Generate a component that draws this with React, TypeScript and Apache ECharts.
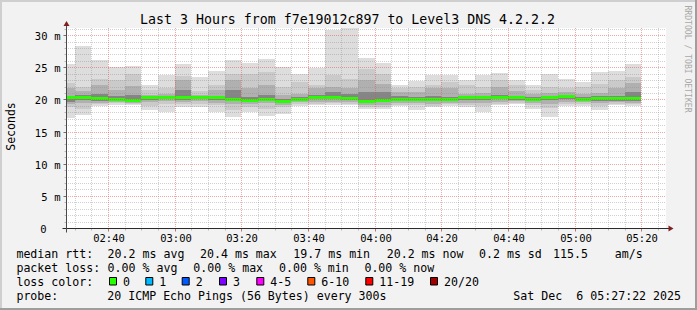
import { useEffect, useRef } from "react";
import * as echarts from "echarts";

// ---------- data ----------
const barStart = [
  "02:25", "02:30", "02:35", "02:40", "02:45", "02:50", "02:55",
  "03:00", "03:05", "03:10", "03:15", "03:20", "03:25", "03:30", "03:35",
  "03:40", "03:45", "03:50", "03:55", "04:00", "04:05", "04:10", "04:15",
  "04:20", "04:25", "04:30", "04:35", "04:40", "04:45", "04:50", "04:55",
  "05:00", "05:05", "05:10", "05:15",
];
const stepMin = 5;
// smoke bands (ms): outermost ping pair .. inner pairs, median
const maxV = [25.5, 28.3, 26.1, 25.0, 25.15, 22.2, 23.75, 25.5, 23.5, 24.4, 26.1, 25.7, 26.35, 25.05, 24.0, 24.9, 30.8, 31.1, 26.5, 25.6, 22.2, 22.8, 23.75, 23.75, 22.97, 23.75, 24.1, 22.97, 22.3, 24.0, 23.1, 22.7, 24.3, 24.4, 25.5];
const hi2 = [22.5, 21.9, 23.1, 23.0, 24.0, 21.4, 21.8, 23.6, 21.25, 22.2, 24.0, 24.0, 24.3, 21.9, 22.7, 22.2, 23.75, 23.2, 24.8, 24.0, 21.7, 21.9, 22.3, 22.7, 22.2, 21.9, 22.97, 22.2, 21.5, 21.9, 21.7, 21.9, 22.45, 22.97, 23.5];
const hi3 = [21.7, 21.25, 22.2, 21.4, 22.1, 20.7, 20.9, 22.97, 20.7, 21.4, 22.97, 21.7, 22.3, 20.7, 20.9, 21.7, 21.9, 21.7, 22.97, 22.4, 21.15, 21.15, 21.7, 21.7, 20.9, 21.0, 21.9, 21.25, 20.9, 21.0, 21.15, 20.9, 21.0, 21.7, 22.5];
const hi4 = [20.6, 20.7, 20.9, 20.6, 20.7, 20.4, 20.5, 21.4, 20.45, 20.6, 21.4, 20.4, 20.7, 20.1, 20.4, 20.7, 21.15, 20.9, 21.15, 21.15, 20.5, 20.4, 20.5, 20.4, 20.5, 20.5, 20.7, 20.5, 20.4, 20.5, 20.6, 20.3, 20.5, 20.6, 21.15];
const medV = [20.3, 20.3, 20.2, 20.05, 19.9, 20.25, 20.3, 20.3, 20.3, 20.3, 20.05, 19.9, 20.0, 19.7, 20.0, 20.3, 20.3, 20.2, 19.7, 19.9, 19.95, 20.0, 20.0, 20.0, 20.25, 20.25, 20.35, 20.25, 20.0, 20.25, 20.4, 20.0, 20.1, 20.1, 20.2];
const lo4 = [19.6, 19.9, 19.8, 19.8, 19.7, 19.9, 20.0, 19.9, 20.0, 19.9, 19.7, 19.6, 19.7, 19.4, 19.8, 20.0, 20.0, 19.9, 19.4, 19.6, 19.7, 19.7, 19.7, 19.8, 19.9, 19.9, 20.0, 19.9, 19.7, 19.9, 20.0, 19.7, 19.8, 19.8, 19.8];
const lo3 = [19.3, 19.5, 19.5, 19.6, 19.5, 19.6, 19.7, 19.6, 19.7, 19.4, 19.3, 19.3, 19.5, 19.2, 19.6, 19.6, 19.6, 19.6, 19.2, 19.2, 19.5, 19.4, 19.3, 19.5, 19.4, 19.4, 19.6, 19.7, 19.4, 19.3, 19.6, 19.6, 19.5, 19.6, 19.5];
const lo2 = [18.8, 18.5, 19.3, 19.4, 19.3, 19.0, 19.3, 19.3, 19.3, 19.1, 18.3, 18.8, 18.5, 18.8, 19.3, 19.3, 19.4, 19.3, 18.8, 18.8, 19.2, 19.1, 19.0, 19.3, 19.1, 19.0, 19.3, 19.5, 19.1, 18.6, 19.3, 19.3, 19.0, 19.3, 19.3];
const minV = [17.1, 17.6, 18.9, 19.2, 19.1, 18.4, 18.1, 18.8, 18.8, 18.0, 17.2, 18.1, 17.4, 17.7, 19.0, 19.1, 19.2, 19.1, 18.5, 18.5, 19.0, 18.4, 18.8, 19.0, 18.8, 18.1, 19.1, 19.3, 18.5, 17.2, 19.0, 19.0, 18.4, 19.1, 19.0];

const xStart = "02:27:22";
const xEnd = "05:27:22";
const xLabels = ["02:40", "03:00", "03:20", "03:40", "04:00", "04:20", "04:40", "05:00", "05:20"];
const yTicks = [0, 5, 10, 15, 20, 25, 30];
const yUnit = "m";
const yMax = 31.1;

const title = "Last 3 Hours from f7e19012c897 to Level3 DNS 4.2.2.2";
const yName = "Seconds";
const watermark = "RRDTOOL / TOBI OETIKER";
const rttLabel = "median rtt:";
const rttStats = ["20.2 ms avg", "20.4 ms max", "19.7 ms min", "20.2 ms now", "0.2 ms sd", "115.5", "am/s"];
const lossLabel = "packet loss:";
const lossStats = ["0.00 % avg", "0.00 % max", "0.00 % min", "0.00 % now"];
const lossColorLabel = "loss color:";
const lossLabels = ["0", "1", "2", "3", "4-5", "6-10", "11-19", "20/20"];
const lossColors = ["#26ff00", "#00b8ff", "#0059ff", "#7e00ff", "#ff00ff", "#ff5500", "#ff0000", "#a10000"];
const probeLabel = "probe:";
const probeText = "20 ICMP Echo Pings (56 Bytes) every 300s";
const stampParts = ["Sat Dec", "6 05:27:22 2025"];

// ---------- helpers ----------
const FONT = '"DejaVu Sans Mono", monospace';
const toMin = (s: string) => {
  const p = s.split(":").map(Number);
  return p[0] * 60 + p[1] + (p[2] || 0) / 60;
};
const xMin = toMin(xStart);
const xMax = toMin(xEnd);

const G_LEFT = 66;
const G_TOP = 28;
const G_W = 600;
const G_H = 200;
const X0 = G_LEFT + 0.5;
const Y0 = G_TOP + G_H + 0.5;

const bandColors = ["#dddddd", "#cacaca", "#b0b0b0", "#858585"];
const GRID_MINOR = "rgba(143,143,143,0.42)";
const GRID_MAJOR = "rgba(222,79,79,0.5)";

export default function App() {
  const ref = useRef<HTMLDivElement>(null);

  useEffect(() => {
    if (!ref.current) return;
    const chart = echarts.init(ref.current, undefined, { renderer: "svg" });

    const smokeData = barStart.map((s, i) => [
      toMin(s), maxV[i], hi2[i], hi3[i], hi4[i], medV[i], lo4[i], lo3[i], lo2[i], minV[i],
    ]);
    const medData = barStart.map((s, i) => [toMin(s), medV[i]]);

    const gridData: number[][] = [];
    for (let v = 1; v <= Math.floor(yMax); v++) {
      gridData.push([xMin, v, v % 5 === 0 ? 1 : 0]);
    }
    const firstV = Math.ceil(xMin / stepMin) * stepMin;
    for (let t = firstV; t <= xMax; t += stepMin) {
      gridData.push([t, 0, t % 20 === 0 ? 3 : 2]);
    }

    const xLabelData = xLabels.map((l) => [toMin(l), 0]);
    const yLabelData = yTicks.map((v) => [xMin, v]);

    const texts: any[] = [];
    const txt = (x: number, y: number, text: string, extra: any = {}) =>
      texts.push({
        type: "text",
        x,
        y,
        z: 50,
        silent: true,
        style: {
          text,
          fontFamily: FONT,
          fontSize: 11.6,
          fill: "#000",
          align: "left",
          verticalAlign: "middle",
          ...extra,
        },
      });

    // title + side texts
    txt(347.5, 19.5, title, { fontSize: 13.25, align: "center" });
    texts.push({
      type: "text",
      x: 10.5,
      y: 126.5,
      rotation: Math.PI / 2,
      z: 50,
      style: { text: yName, fontFamily: FONT, fontSize: 11.5, fill: "#000", align: "center", verticalAlign: "middle" },
    });
    texts.push({
      type: "text",
      x: 687.5,
      y: 59,
      rotation: -Math.PI / 2,
      z: 50,
      style: { text: watermark, fontFamily: FONT, fontSize: 8.1, fill: "#a8a8a8", align: "center", verticalAlign: "middle" },
    });

    // legend rows
    const r1 = 254, r2 = 268, r3 = 282, r4 = 296.3;
    txt(16.4, r1, rttLabel);
    const rttX = [107.6, 200, 293.3, 386.7, 479, 553, 614.7];
    rttStats.forEach((s, i) => txt(rttX[i], r1, s));
    txt(16.4, r2, lossLabel);
    const lossX = [107.6, 193.3, 279, 364.4];
    lossStats.forEach((s, i) => txt(lossX[i], r2, s));
    txt(16.4, r3, lossColorLabel);
    const boxX = [109, 145.3, 181.7, 219, 256.3, 307.3, 365.3, 430];
    lossLabels.forEach((l, i) => {
      texts.push({
        type: "rect",
        z: 50,
        shape: { x: boxX[i] + 0.5, y: 277.5, width: 7, height: 7.5 },
        style: { fill: lossColors[i], stroke: "#000", lineWidth: 1 },
      });
      txt(boxX[i] + 14, r3, l);
    });
    txt(16.4, r4, probeLabel);
    txt(107.3, r4, probeText);
    txt(513.3, r4, stampParts[0]);
    txt(576.3, r4, stampParts[1]);

    // frame bevel + axes + arrows
    const frame: any[] = [
      { type: "rect", z: 60, shape: { x: 0, y: 0, width: 697, height: 2 }, style: { fill: "#cfcfcf" } },
      { type: "rect", z: 60, shape: { x: 0, y: 0, width: 2, height: 310 }, style: { fill: "#cfcfcf" } },
      { type: "rect", z: 61, shape: { x: 0, y: 308, width: 697, height: 2 }, style: { fill: "#9e9e9e" } },
      { type: "rect", z: 61, shape: { x: 695, y: 0, width: 2, height: 310 }, style: { fill: "#9e9e9e" } },
      { type: "line", z: 70, shape: { x1: X0 - 4, y1: Y0, x2: X0 + G_W + 4, y2: Y0 }, style: { stroke: "#2a2a2a", lineWidth: 1 } },
      { type: "line", z: 70, shape: { x1: X0, y1: Y0 + 4, x2: X0, y2: G_TOP - 4 }, style: { stroke: "#4a4a4a", lineWidth: 1 } },
      {
        type: "polygon",
        z: 71,
        shape: { points: [[X0 + G_W + 2, Y0 - 3], [X0 + G_W + 2, Y0 + 3], [X0 + G_W + 7, Y0]] },
        style: { fill: "#801f1f" },
      },
      {
        type: "polygon",
        z: 71,
        shape: { points: [[X0 - 3, G_TOP - 2], [X0 + 3, G_TOP - 2], [X0, G_TOP - 7]] },
        style: { fill: "#801f1f" },
      },
    ];

    const option: any = {
      animation: false,
      backgroundColor: "#f2f2f2",
      grid: {
        left: G_LEFT,
        top: G_TOP,
        width: G_W,
        height: G_H,
        show: true,
        backgroundColor: "#ffffff",
        borderWidth: 0,
      },
      xAxis: { type: "value", min: xMin, max: xMax, show: false },
      yAxis: { type: "value", min: 0, max: yMax, show: false },
      series: [
        {
          type: "custom",
          name: "smoke",
          z: 2,
          clip: true,
          silent: true,
          data: smokeData,
          renderItem: (_p: any, api: any) => {
            const t = api.value(0);
            const xa = Math.round(api.coord([t, 0])[0]);
            const xb = Math.round(api.coord([t + stepMin, 0])[0]);
            const pairs = [[1, 9], [2, 8], [3, 7], [4, 6]];
            return {
              type: "group",
              children: pairs.map(([h, l], k) => {
                const yh = Math.round(api.coord([t, api.value(h)])[1]);
                const yl = Math.round(api.coord([t, api.value(l)])[1]);
                return {
                  type: "rect",
                  shape: { x: xa, y: yh, width: xb - xa, height: Math.max(1, yl - yh) },
                  style: { fill: bandColors[k] },
                };
              }),
            };
          },
        },
        {
          type: "custom",
          name: "median",
          z: 3,
          clip: true,
          silent: true,
          data: medData,
          renderItem: (_p: any, api: any) => {
            const t = api.value(0);
            const xa = Math.round(api.coord([t, 0])[0]);
            const xb = Math.round(api.coord([t + stepMin, 0])[0]);
            const y = api.coord([t, api.value(1)])[1];
            return {
              type: "rect",
              shape: { x: xa, y: Math.round(y - 1.5), width: xb - xa, height: 3 },
              style: { fill: lossColors[0] },
            };
          },
        },
        {
          type: "custom",
          name: "grid",
          z: 4,
          silent: true,
          data: gridData,
          renderItem: (_p: any, api: any) => {
            const a = api.value(0);
            const b = api.value(1);
            const kind = api.value(2);
            if (kind < 2) {
              const p1 = api.coord([xMin, b]);
              const p2 = api.coord([xMax, b]);
              const y = Math.round(p1[1]) + 0.5;
              return {
                type: "group",
                children: [
                  {
                    type: "line",
                    shape: { x1: p1[0], y1: y, x2: p2[0], y2: y },
                    style: { stroke: kind === 1 ? GRID_MAJOR : GRID_MINOR, lineWidth: 1, lineDash: [1, 1] },
                  },
                  {
                    type: "line",
                    shape: { x1: X0 - (kind === 1 ? 3 : 2), y1: y, x2: X0, y2: y },
                    style: { stroke: kind === 1 ? "#707070" : "#b8b8b8", lineWidth: 1 },
                  },
                ],
              };
            }
            const p1 = api.coord([a, 0]);
            const p2 = api.coord([a, yMax]);
            const x = Math.round(p1[0]) + 0.5;
            return {
              type: "group",
              children: [
                {
                  type: "line",
                  shape: { x1: x, y1: p2[1], x2: x, y2: p1[1] },
                  style: { stroke: kind === 3 ? GRID_MAJOR : GRID_MINOR, lineWidth: 1, lineDash: [1, 1] },
                },
                {
                  type: "line",
                  shape: { x1: x, y1: Y0, x2: x, y2: Y0 + (kind === 3 ? 3 : 2) },
                  style: { stroke: kind === 3 ? "#c07070" : "#b8b8b8", lineWidth: 1 },
                },
              ],
            };
          },
        },
        {
          type: "custom",
          name: "xlabels",
          z: 5,
          silent: true,
          data: xLabelData,
          renderItem: (p: any, api: any) => {
            const c = api.coord([api.value(0), 0]);
            return {
              type: "text",
              x: Math.round(c[0]) + 1,
              y: c[1] + 9.5,
              style: {
                text: xLabels[p.dataIndex],
                fontFamily: FONT,
                fontSize: 10.5,
                fill: "#000",
                align: "center",
                verticalAlign: "middle",
              },
            };
          },
        },
        {
          type: "custom",
          name: "ylabels",
          z: 5,
          silent: true,
          data: yLabelData,
          renderItem: (_p: any, api: any) => {
            const v = api.value(1);
            const c = api.coord([xMin, v]);
            const y = Math.round(c[1]) + 0.5;
            const children: any[] = [
              {
                type: "text",
                x: X0 - (v === 0 ? 20 : 19),
                y,
                style: {
                  text: String(v),
                  fontFamily: FONT,
                  fontSize: 10.5,
                  fill: "#000",
                  align: "right",
                  verticalAlign: "middle",
                },
              },
            ];
            if (v !== 0) {
              children.push({
                type: "text",
                x: X0 - 6,
                y,
                style: {
                  text: yUnit,
                  fontFamily: FONT,
                  fontSize: 10.5,
                  fill: "#000",
                  align: "right",
                  verticalAlign: "middle",
                },
              });
            }
            return { type: "group", children };
          },
        },
      ],
      graphic: [...frame, ...texts],
    };

    chart.setOption(option);
    return () => chart.dispose();
  }, []);

  return (
    <div
      ref={ref}
      style={{ position: "absolute", left: 0, top: 0, width: 697, height: 310, background: "#f2f2f2" }}
    />
  );
}
